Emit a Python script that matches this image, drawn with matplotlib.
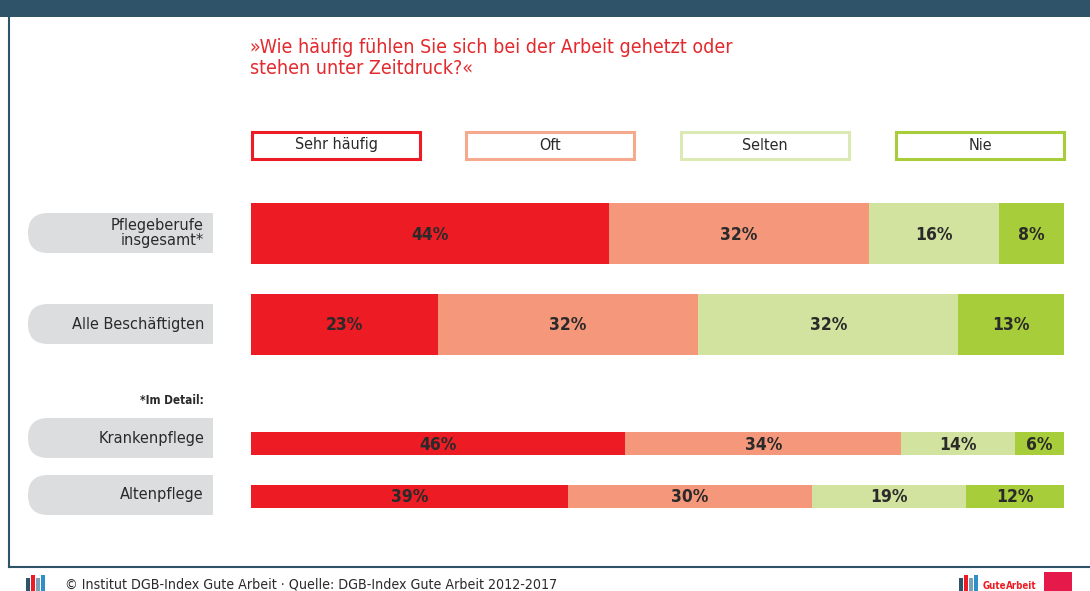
#!/usr/bin/env python
# -*- coding: utf-8 -*-

"""
Stacked bars: how often people feel rushed at work (DGB-Index Gute Arbeit).
"""

# Third party modules.
import matplotlib
matplotlib.use("Agg")
import matplotlib.pyplot as plt
from matplotlib.patches import FancyBboxPatch, Rectangle

# Globals and constants variables.
plt.rcParams['font.family'] = ['DejaVu Sans']
plt.rcParams['font.stretch'] = 'condensed'

title = "»Wie häufig fühlen Sie sich bei der Arbeit gehetzt oder\nstehen unter Zeitdruck?«"
answers = ["Sehr häufig", "Oft", "Selten", "Nie"]
groups = ["Pflegeberufe\ninsgesamt*", "Alle Beschäftigten", "Krankenpflege", "Altenpflege"]
sehr_haeufig = [44, 23, 46, 39]
oft = [32, 32, 34, 30]
selten = [16, 32, 14, 19]
nie = [8, 13, 6, 12]
footer = "© Institut DGB-Index Gute Arbeit · Quelle: DGB-Index Gute Arbeit 2012-2017"

COLORS = ["#ed1c24", "#f5977a", "#d1e39f", "#a7cd3a"]
EDGE = ["#ed1c24", "#f5a98e", "#dbe9b5", "#a7cd3a"]
NAVY = "#2f5368"
TEXT = "#2a2a2a"
W, H = 1090, 591


def px(x, y, w, h):
    # pixel box (top-left origin) -> figure fraction
    return [x / W, 1 - (y + h) / H, w / W, h / H]


def run():
    fig = plt.figure(figsize=(W / 100, H / 100), dpi=100)

    # background canvas in pixel coordinates
    bg = fig.add_axes([0, 0, 1, 1])
    bg.set_xlim(0, W)
    bg.set_ylim(H, 0)
    bg.axis("off")

    bg.add_patch(Rectangle((0, 0), W, 17, color=NAVY, lw=0))
    bg.plot([9, 9], [17, 567], color=NAVY, lw=1.5)
    bg.plot([9, W], [567, 567], color=NAVY, lw=1.5)

    bg.text(250, 38, title, color="#e32a2e", fontsize=14,
            va="top", ha="left", linespacing=1.12)

    # legend boxes
    legend_x = [252, 466, 681, 896]
    for i, name in enumerate(answers):
        bg.add_patch(Rectangle((legend_x[i], 132), 168, 27, fill=False,
                               ec=EDGE[i], lw=2.2))
        bg.text(legend_x[i] + 84, 145, name, ha="center", va="center",
                fontsize=11.5, color=TEXT)

    # bars
    rows = [(203, 61), (294, 61), (432, 23), (485, 23)]
    pills = [(213, 40), (304, 40), (418, 40), (475, 40)]
    ax = fig.add_axes(px(251, 0, 813, H))
    ax.set_xlim(0, 100)
    ax.set_ylim(H, 0)
    ax.axis("off")

    centers = [r[0] + r[1] / 2 for r in rows]
    heights = [r[1] for r in rows]
    left = [0, 0, 0, 0]
    for i, vals in enumerate([sehr_haeufig, oft, selten, nie]):
        ax.barh(centers, vals, height=heights, left=left, color=COLORS[i], lw=0)
        for j, v in enumerate(vals):
            ax.text(left[j] + v / 2, centers[j] + 1, f"{v}%", ha="center",
                    va="center", fontsize=12.5, fontweight="bold", color=TEXT)
        left = [a + b for a, b in zip(left, vals)]

    # group labels in grey pills
    for j, name in enumerate(groups):
        y0, hh = pills[j]
        bg.add_patch(FancyBboxPatch((28, y0), 185, hh,
                                    boxstyle=f"round,pad=0,rounding_size={hh / 2}",
                                    fc="#dcdddf", ec="none"))
        bg.add_patch(Rectangle((150, y0), 63, hh, fc="#dcdddf", ec="none"))
        bg.text(204, y0 + hh / 2, name, ha="right", va="center",
                fontsize=11.7, color=TEXT, linespacing=1.0,
                multialignment="right")

    bg.text(204, 400, "*Im Detail:", ha="right", va="center", fontsize=8.5,
            fontweight="bold", color=TEXT)

    # footer
    bg.text(65, 584, footer, ha="left", va="center", fontsize=10.2, color=TEXT)
    for k, c in enumerate(["#2f5368", "#ed1c24", "#7aa0b8", "#2f8fc8"]):
        bg.add_patch(Rectangle((26 + k * 5, 578 - k % 2 * 3), 4, 13 + k % 2 * 3,
                               color=c, lw=0))
    for k, c in enumerate(["#2f5368", "#ed1c24", "#7aa0b8", "#2f8fc8"]):
        bg.add_patch(Rectangle((959 + k * 5, 578 - k % 2 * 3), 4, 13 + k % 2 * 3,
                               color=c, lw=0))
    bg.text(983, 586, "Gute", ha="left", va="center", fontsize=7,
            fontweight="bold", color="#ed1c24")
    bg.text(1006, 586, "Arbeit", ha="left", va="center", fontsize=7,
            fontweight="bold", color="#ed1c24")
    bg.add_patch(Rectangle((1044, 572), 28, 19, color="#e6194b", lw=0))

    fig.savefig("out.png", dpi=100)


def main():
    run()


if __name__ == '__main__':  # pragma: no cover
    main()
